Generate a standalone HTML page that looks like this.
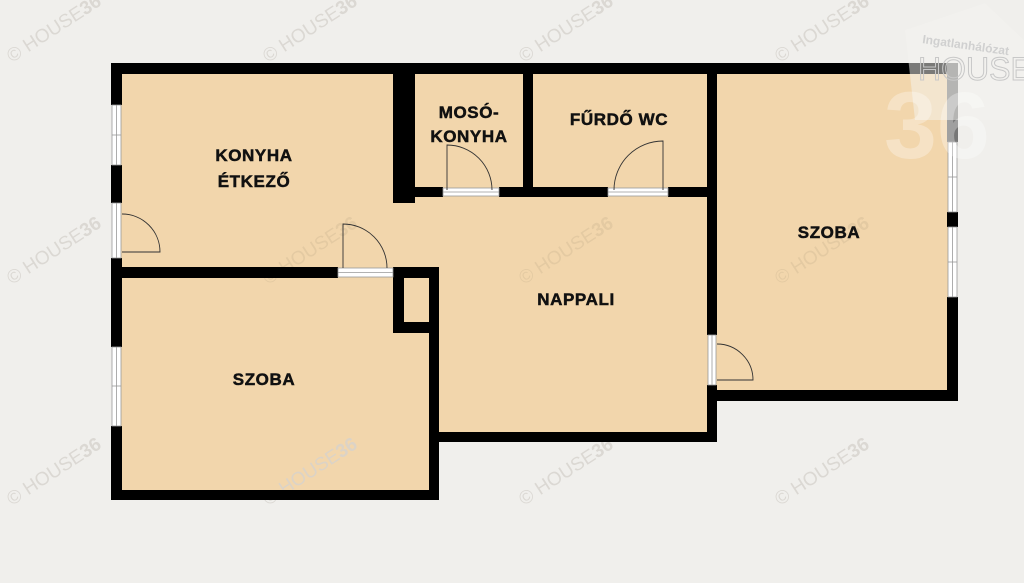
<!DOCTYPE html>
<html><head><meta charset="utf-8"><style>
html,body{margin:0;padding:0;background:#f0efec;}
svg{display:block}
text{font-family:"Liberation Sans",sans-serif;}
</style></head><body>
<svg width="1024" height="583" viewBox="0 0 1024 583" xmlns="http://www.w3.org/2000/svg">
<rect width="1024" height="583" fill="#f0efec"/>
<!-- floor -->
<g fill="#f2d6ac">
<rect x="115" y="68" width="600" height="372"/>
<rect x="115" y="270" width="320" height="225"/>
<rect x="710" y="68" width="244" height="330"/>
</g>
<!-- watermarks -->
<g fill="#d6d3ce" font-size="19" opacity="0.8">
<text transform="translate(12,63) rotate(-33)">© HOUSE<tspan font-weight="bold">36</tspan></text>
<text transform="translate(268,63) rotate(-33)">© HOUSE<tspan font-weight="bold">36</tspan></text>
<text transform="translate(524,63) rotate(-33)">© HOUSE<tspan font-weight="bold">36</tspan></text>
<text transform="translate(780,63) rotate(-33)">© HOUSE<tspan font-weight="bold">36</tspan></text>
<text transform="translate(12,285) rotate(-33)">© HOUSE<tspan font-weight="bold">36</tspan></text>
<text transform="translate(268,285) rotate(-33)" fill="#e0c7a0">© HOUSE<tspan font-weight="bold">36</tspan></text>
<text transform="translate(524,285) rotate(-33)" fill="#e0c7a0">© HOUSE<tspan font-weight="bold">36</tspan></text>
<text transform="translate(780,285) rotate(-33)" fill="#e0c7a0">© HOUSE<tspan font-weight="bold">36</tspan></text>
<text transform="translate(12,506) rotate(-33)">© HOUSE<tspan font-weight="bold">36</tspan></text>
<text transform="translate(268,506) rotate(-33)">© HOUSE<tspan font-weight="bold">36</tspan></text>
<text transform="translate(524,506) rotate(-33)">© HOUSE<tspan font-weight="bold">36</tspan></text>
<text transform="translate(780,506) rotate(-33)">© HOUSE<tspan font-weight="bold">36</tspan></text>
</g>
<!-- walls -->
<g fill="#000">
<rect x="111" y="63" width="847" height="11"/>
<rect x="111" y="63" width="11" height="42"/>
<rect x="111" y="165" width="11" height="38"/>
<rect x="111" y="258" width="11" height="89"/>
<rect x="111" y="426" width="11" height="74"/>
<rect x="111" y="490" width="328" height="10"/>
<rect x="429" y="267" width="10" height="233"/>
<rect x="111" y="267" width="227" height="11"/>
<rect x="393" y="267" width="46" height="11"/>
<rect x="393" y="267" width="11" height="66"/>
<rect x="393" y="322" width="46" height="11"/>
<rect x="393" y="63" width="22" height="140"/>
<rect x="415" y="187" width="28" height="10"/>
<rect x="499" y="187" width="109" height="10"/>
<rect x="668" y="187" width="49" height="10"/>
<rect x="523" y="63" width="10" height="134"/>
<rect x="707" y="63" width="10" height="272"/>
<rect x="707" y="385" width="10" height="57"/>
<rect x="429" y="432" width="288" height="10"/>
<rect x="707" y="390" width="251" height="11"/>
<rect x="947" y="63" width="11" height="79" fill="#777"/>
<rect x="947" y="212" width="11" height="15"/>
<rect x="947" y="297" width="11" height="104"/>
</g>
<!-- windows / door frames -->
<g fill="#fff" stroke="#999" stroke-width="0.8">
<rect x="112" y="105" width="9" height="60"/><line x1="116.5" y1="105" x2="116.5" y2="165"/><line x1="112" y1="135" x2="121" y2="135"/>
<rect x="112" y="203" width="9" height="55"/><line x1="116.5" y1="203" x2="116.5" y2="258"/>
<rect x="112" y="347" width="9" height="79"/><line x1="116.5" y1="347" x2="116.5" y2="426"/><line x1="112" y1="386" x2="121" y2="386"/>
<rect x="338" y="268" width="55" height="9"/><line x1="338" y1="272.5" x2="393" y2="272.5"/>
<rect x="443" y="188" width="56" height="8"/><line x1="443" y1="192" x2="499" y2="192"/>
<rect x="608" y="188" width="60" height="8"/><line x1="608" y1="192" x2="668" y2="192"/>
<rect x="708" y="335" width="8" height="50"/><line x1="712" y1="335" x2="712" y2="385"/>
<rect x="948" y="142" width="9" height="70"/><line x1="952.5" y1="142" x2="952.5" y2="212"/><line x1="948" y1="177" x2="957" y2="177"/>
<rect x="948" y="227" width="9" height="70"/><line x1="952.5" y1="227" x2="952.5" y2="297"/><line x1="948" y1="262" x2="957" y2="262"/>
</g>
<!-- doors -->
<g fill="none" stroke="#333" stroke-width="0.9">
<path d="M122 252 H160 A38 38 0 0 0 122 214"/>
<path d="M343 268 V224 A44 44 0 0 1 387 268"/>
<path d="M447 190 V145 A45 45 0 0 1 492 190"/>
<path d="M663 190 V141 A49 49 0 0 0 614 190"/>
<path d="M717 380 H753 A36 36 0 0 0 717 344"/>
</g>
<!-- logo -->
<path d="M905 30 L985 3 L1024 40 L1024 120 L915 120 Z" fill="#f4f3f0" opacity="0.5"/>
<text x="884" y="158" font-size="95" font-weight="bold" fill="#fff" opacity="0.3">36</text>
<text x="922" y="43" font-size="12" font-weight="bold" fill="#d0d0d0" transform="rotate(8 922 43)">Ingatlanhálózat</text>
<text x="918" y="80" font-size="32" fill="none" stroke="#c8c8c8" stroke-width="1">HOUSE</text>
<!-- labels -->
<g font-weight="bold" font-size="17" fill="#111" stroke="#111" stroke-width="0.5" text-anchor="middle" letter-spacing="0.6">
<text x="254" y="161">KONYHA</text>
<text x="254" y="187">ÉTKEZŐ</text>
<text x="469" y="118">MOSÓ-</text>
<text x="469" y="142">KONYHA</text>
<text x="619" y="125">FŰRDŐ WC</text>
<text x="829" y="238">SZOBA</text>
<text x="576" y="305">NAPPALI</text>
<text x="264" y="385">SZOBA</text>
</g>
</svg>
</body></html>
